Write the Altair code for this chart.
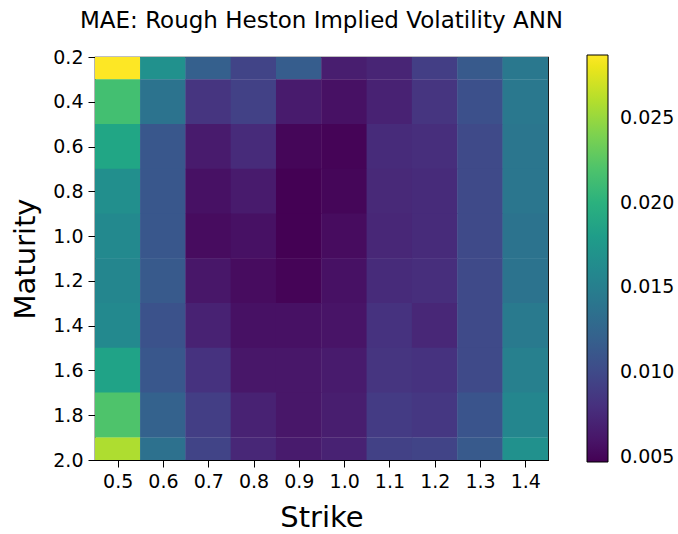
import altair as alt
import pandas as pd

strikes = [0.5, 0.6, 0.7, 0.8, 0.9, 1.0, 1.1, 1.2, 1.3, 1.4]
maturities = [0.2, 0.4, 0.6, 0.8, 1.0, 1.2, 1.4, 1.6, 1.8, 2.0]

# MAE per maturity row (top to bottom), one value per strike
mae_t02 = [0.0287, 0.0167, 0.0119, 0.0095, 0.0117, 0.0066, 0.0071, 0.0090, 0.0114, 0.0143]
mae_t04 = [0.0215, 0.0138, 0.0083, 0.0093, 0.0064, 0.0057, 0.0069, 0.0083, 0.0105, 0.0143]
mae_t06 = [0.0189, 0.0112, 0.0064, 0.0076, 0.0050, 0.0049, 0.0076, 0.0078, 0.0100, 0.0141]
mae_t08 = [0.0165, 0.0112, 0.0057, 0.0064, 0.0047, 0.0050, 0.0074, 0.0076, 0.0100, 0.0141]
mae_t10 = [0.0160, 0.0112, 0.0054, 0.0057, 0.0047, 0.0054, 0.0073, 0.0076, 0.0100, 0.0138]
mae_t12 = [0.0157, 0.0114, 0.0061, 0.0054, 0.0049, 0.0057, 0.0076, 0.0078, 0.0100, 0.0138]
mae_t14 = [0.0160, 0.0107, 0.0069, 0.0057, 0.0057, 0.0059, 0.0081, 0.0073, 0.0100, 0.0145]
mae_t16 = [0.0186, 0.0112, 0.0081, 0.0061, 0.0061, 0.0064, 0.0083, 0.0081, 0.0100, 0.0150]
mae_t18 = [0.0220, 0.0121, 0.0090, 0.0069, 0.0061, 0.0066, 0.0088, 0.0085, 0.0109, 0.0157]
mae_t20 = [0.0258, 0.0136, 0.0095, 0.0073, 0.0064, 0.0069, 0.0093, 0.0095, 0.0114, 0.0167]

rows = [mae_t02, mae_t04, mae_t06, mae_t08, mae_t10,
        mae_t12, mae_t14, mae_t16, mae_t18, mae_t20]

color_ticks = [0.005, 0.010, 0.015, 0.020, 0.025]
color_domain = [0.0047, 0.0287]

records = []
for m, row in zip(maturities, rows):
    for k, v in zip(strikes, row):
        records.append({"strike": k, "maturity": m, "mae": v})
df = pd.DataFrame(records)

FONT = "DejaVu Sans"

chart = (
    alt.Chart(df)
    .transform_calculate(
        k0="datum.strike - 0.0505",
        k1="datum.strike + 0.0505",
        m0="datum.maturity - 0.101",
        m1="datum.maturity + 0.101",
    )
    .mark_rect(clip=True, strokeWidth=0)
    .encode(
        x=alt.X(
            "k0:Q",
            title="Strike",
            scale=alt.Scale(domain=[0.45, 1.45], nice=False, zero=False),
            axis=alt.Axis(values=strikes, format=".1f", grid=False),
        ),
        x2="k1:Q",
        y=alt.Y(
            "m0:Q",
            title="Maturity",
            scale=alt.Scale(domain=[0.2, 2.0], nice=False, zero=False, reverse=True),
            axis=alt.Axis(values=maturities, format=".1f", grid=False),
        ),
        y2="m1:Q",
        color=alt.Color(
            "mae:Q",
            scale=alt.Scale(scheme="viridis", domain=color_domain, nice=False, zero=False),
            legend=alt.Legend(
                title=None,
                orient="none",
                legendX=492,
                legendY=-2,
                direction="vertical",
                gradientLength=407,
                gradientThickness=21,
                gradientStrokeColor="black",
                gradientStrokeWidth=1,
                values=color_ticks,
                format=".3f",
                labelFontSize=19,
                labelFont=FONT,
                labelColor="black",
                labelOffset=12,
                labelBaseline="middle",
                labelOverlap=False,
                padding=0,
            ),
        ),
    )
    .properties(
        width=453,
        height=403,
        title=alt.TitleParams(
            "MAE: Rough Heston Implied Volatility ANN",
            font=FONT,
            fontSize=23,
            fontWeight="normal",
            color="black",
            anchor="middle",
            offset=15,
        ),
        autosize=alt.AutoSizeParams(type="none"),
        padding={"left": 95, "top": 57, "right": 130, "bottom": 74},
    )
    .configure_view(stroke="black", strokeWidth=1.2)
    .configure_axis(
        labelFont=FONT,
        titleFont=FONT,
        labelFontSize=19,
        titleFontSize=29,
        titleFontWeight="normal",
        labelColor="black",
        titleColor="black",
        domainColor="black",
        tickColor="black",
        tickSize=7,
        labelPadding=5,
    )
    .configure_axisX(titlePadding=12)
    .configure_axisY(titlePadding=12)
)

chart.save("out.html", embed_options={"renderer": "svg", "actions": False})
